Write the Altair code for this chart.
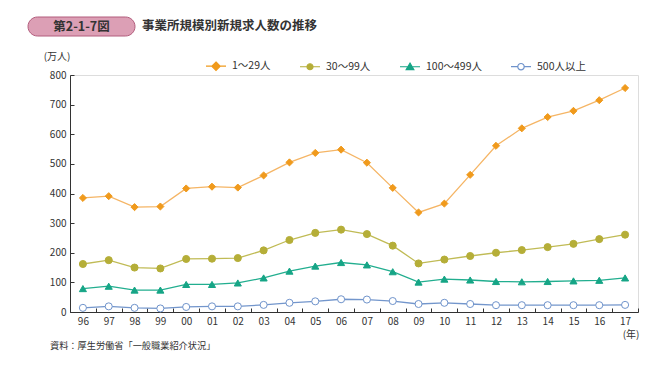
import altair as alt
import pandas as pd

# ---------------- data ----------------
years = ["96", "97", "98", "99", "00", "01", "02", "03", "04", "05", "06",
         "07", "08", "09", "10", "11", "12", "13", "14", "15", "16", "17"]
series_names = ["1～29人", "30～99人", "100～499人", "500人以上"]
s_1_29 = [385, 391, 354, 356, 417, 423, 420, 461, 505, 537, 548,
          504, 419, 336, 366, 463, 561, 620, 658, 679, 715, 756]
s_30_99 = [162, 175, 150, 147, 179, 180, 182, 208, 243, 267, 278,
           263, 224, 164, 177, 189, 200, 209, 219, 230, 246, 261]
s_100_499 = [79, 87, 74, 74, 93, 93, 98, 115, 138, 155, 167,
             159, 136, 101, 111, 108, 103, 102, 103, 105, 107, 115]
s_500 = [14, 19, 14, 12, 17, 19, 19, 24, 31, 36, 43,
         42, 37, 27, 31, 27, 23, 23, 23, 23, 23, 24]
y_ticks = [0, 100, 200, 300, 400, 500, 600, 700, 800]

badge_text = "第2-1-7図"
title_text = "事業所規模別新規求人数の推移"
unit_text = "(万人)"
year_text = "(年)"
source_text = "資料：厚生労働省「一般職業紹介状況」"

# ---------------- styles ----------------
FONT = "Noto Sans CJK JP"
line_colors = ["#f5b565", "#c0bb55", "#22ae8f", "#7396cc"]
marker_stroke = ["#f09a1c", "#b5ae38", "#16a586", "#6f93cb"]
marker_fill = ["#f09a1c", "#b5ae38", "#16a586", "#ffffff"]
shapes = ["diamond", "circle", "triangle-up", "circle"]
# legend symbols: a short line with the marker in its middle (unit coords)
legend_shapes = [
    "M-1,0L1,0M0,-0.42L0.42,0L0,0.42L-0.42,0Z",
    "M-1,0L1,0M0.3,0A0.3,0.3 0 1,1 -0.3,0A0.3,0.3 0 1,1 0.3,0Z",
    "M-1,0L1,0M0,-0.36L0.38,0.28L-0.38,0.28Z",
    "M-1,0L-0.32,0M0.32,0L1,0M0.32,0A0.32,0.32 0 1,1 -0.32,0A0.32,0.32 0 1,1 0.32,0Z",
]

rows = []
for name, vals in zip(series_names, [s_1_29, s_30_99, s_100_499, s_500]):
    for yr, v in zip(years, vals):
        rows.append({"year": yr, "value": v, "series": name})
df = pd.DataFrame(rows)

W, H = 568, 237
LX, LY = 135, -20
CP = 26

x_enc = alt.X(
    "year:N", sort=years, bandPosition=0.5,
    scale=alt.Scale(type="band", paddingInner=0, paddingOuter=0),
    axis=alt.Axis(title=None, labelAngle=0, tickBand="extent",
                  tickSize={"expr": "-4"}, labelPadding=8,
                  labelFontSize=10, labelColor="#333333",
                  domainColor="#333333", tickColor="#333333"),
)
y_enc = alt.Y(
    "value:Q",
    scale=alt.Scale(domain=[0, 800], nice=False),
    axis=alt.Axis(title=None, values=y_ticks, grid=False,
                  tickSize={"expr": "-4"}, labelPadding=8,
                  labelFontSize=10, labelColor="#333333",
                  domainColor="#333333", tickColor="#333333"),
)

base = alt.Chart(df)

lines = base.mark_line(strokeWidth=1.3).encode(
    x=x_enc, y=y_enc,
    color=alt.Color("series:N",
                    scale=alt.Scale(domain=series_names, range=line_colors),
                    legend=None),
)

points = base.mark_point(size=50, opacity=1, strokeWidth=1, filled=False).encode(
    x=x_enc, y=y_enc,
    shape=alt.Shape("series:N",
                    scale=alt.Scale(domain=series_names, range=shapes),
                    legend=None),
    fill=alt.Fill("series:N",
                  scale=alt.Scale(domain=series_names, range=marker_fill),
                  legend=None),
    stroke=alt.Stroke("series:N",
                      scale=alt.Scale(domain=series_names, range=marker_stroke),
                      legend=None),
)

leg = alt.Legend(title=None, orient="none", legendX=LX, legendY=LY,
                 direction="horizontal", columns=4, columnPadding=CP,
                 symbolSize=400, symbolStrokeWidth=1.2, symbolOpacity=1,
                 labelOffset=5, labelFontSize=10.5, labelFont=FONT,
                 labelColor="#333333")

legend_layer = base.mark_point(size=10, opacity=0, strokeWidth=1.2).encode(
    x=x_enc, y=y_enc,
    shape=alt.Shape("series:N",
                    scale=alt.Scale(domain=series_names, range=legend_shapes),
                    legend=leg),
    fill=alt.Fill("series:N",
                  scale=alt.Scale(domain=series_names, range=marker_fill),
                  legend=leg),
    stroke=alt.Stroke("series:N",
                      scale=alt.Scale(domain=series_names, range=marker_stroke),
                      legend=leg),
)


def label(text, x, y, size=10, weight="normal", align="left", color="#333333"):
    return alt.Chart(pd.DataFrame({"t": [text]})).mark_text(
        font=FONT, fontSize=size, fontWeight=weight, align=align,
        baseline="middle", color=color,
    ).encode(text="t:N", x=alt.value(x), y=alt.value(y))


badge = alt.Chart(pd.DataFrame({"t": [badge_text]})).mark_rect(
    fill="#dc9fb5", stroke="#b25c7c", strokeWidth=1, cornerRadius=9.5,
).encode(x=alt.value(-42), x2=alt.value(65), y=alt.value(-58), y2=alt.value(-39))

chart = alt.layer(
    legend_layer, lines, points,
    badge,
    label(badge_text, 11.5, -48.5, size=12.5, weight="bold", align="center"),
    label(title_text, 72, -49, size=12.5, weight="bold"),
    label(unit_text, -13, -18, size=10, align="center"),
    label(year_text, 561, 260, size=10, align="center"),
    label(source_text, -20, 271, size=9.2),
).properties(
    width=W, height=H,
    autosize=alt.AutoSizeParams(type="none"),
    padding={"left": 62, "top": 67, "right": 12, "bottom": 49},
).resolve_scale(
    color="independent", shape="independent",
    fill="independent", stroke="independent",
).configure_view(
    stroke=None
).configure(
    font=FONT
)

chart.save("out.html", embed_options={"renderer": "svg", "actions": False})
